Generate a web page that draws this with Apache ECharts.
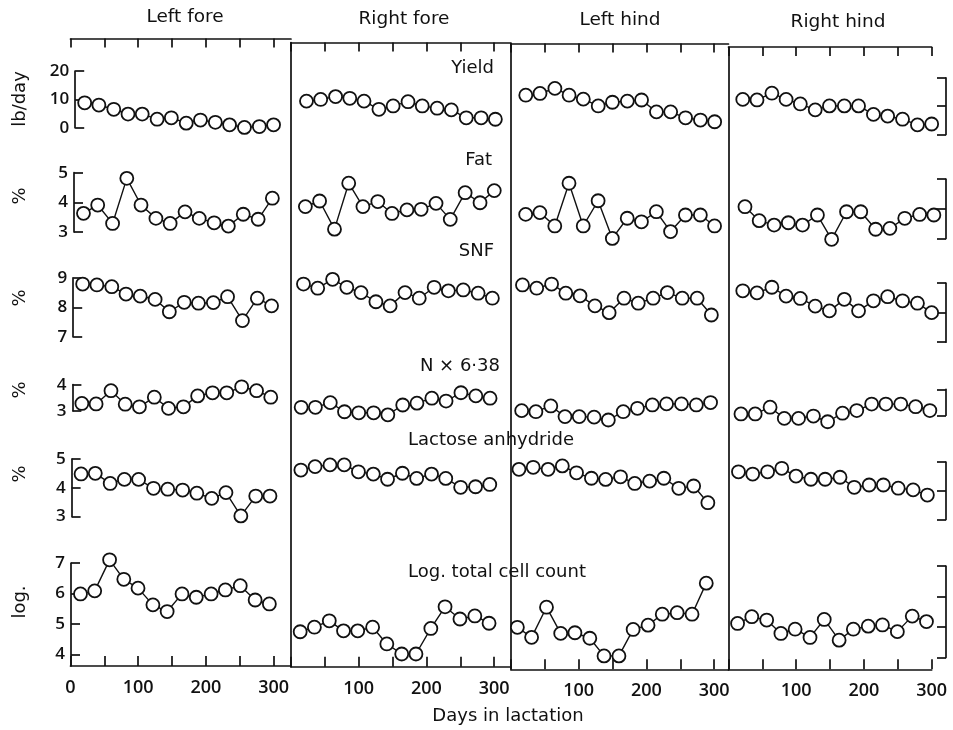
<!DOCTYPE html>
<html><head><meta charset="utf-8">
<script src="https://cdn.jsdelivr.net/npm/echarts@6/dist/echarts.min.js"></script>
<style>html,body{margin:0;padding:0;background:#fff}#c{width:953px;height:730px}</style>
</head><body><div id="c"></div>
<script>
// ---------------- data ----------------
const quarters = ['Left fore', 'Right fore', 'Left hind', 'Right hind'];
const variables = ['Yield', 'Fat', 'SNF', 'N × 6·38', 'Lactose anhydride', 'Log. total cell count'];
const axisNames = ['lb/day', '%', '%', '%', '%', 'log.'];
const days = [14, 35, 57, 78, 99, 121, 142, 164, 185, 207, 228, 250, 272, 293];

const yieldLF = [8.8, 8.0, 6.5, 4.8, 4.8, 3.0, 3.5, 1.6, 2.7, 1.9, 1.0, 0.1, 0.4, 1.0];
const yieldRF = [10.2, 10.8, 11.8, 11.2, 10.2, 7.3, 8.5, 10.0, 8.5, 7.7, 7.1, 4.3, 4.3, 3.8];
const yieldLH = [13.1, 13.7, 15.5, 13.1, 11.7, 9.3, 10.6, 11.0, 11.4, 7.2, 7.2, 5.1, 4.3, 3.7];
const yieldRH = [12.4, 12.2, 14.6, 12.4, 10.8, 8.7, 10.1, 10.1, 10.1, 7.1, 6.5, 5.4, 3.4, 3.7];

const fatLF = [3.63, 3.91, 3.29, 4.81, 3.91, 3.46, 3.29, 3.68, 3.46, 3.31, 3.20, 3.60, 3.43, 4.14];
const fatRF = [3.93, 4.12, 3.17, 4.72, 3.93, 4.10, 3.70, 3.82, 3.84, 4.04, 3.50, 4.40, 4.06, 4.47];
const fatLH = [3.74, 3.80, 3.35, 4.79, 3.35, 4.20, 2.93, 3.61, 3.49, 3.83, 3.16, 3.72, 3.72, 3.35];
const fatRH = [4.07, 3.60, 3.45, 3.53, 3.45, 3.79, 2.97, 3.90, 3.90, 3.31, 3.34, 3.68, 3.81, 3.79];

const snfLF = [8.79, 8.76, 8.70, 8.45, 8.38, 8.27, 7.85, 8.17, 8.14, 8.16, 8.36, 7.55, 8.31, 8.05];
const snfRF = [8.85, 8.71, 9.01, 8.74, 8.56, 8.25, 8.11, 8.56, 8.37, 8.74, 8.62, 8.65, 8.54, 8.37];
const snfLH = [8.88, 8.77, 8.91, 8.60, 8.51, 8.17, 7.94, 8.43, 8.26, 8.43, 8.62, 8.43, 8.43, 7.86];
const snfRH = [8.74, 8.67, 8.86, 8.56, 8.48, 8.22, 8.06, 8.45, 8.06, 8.40, 8.54, 8.40, 8.32, 8.00];

const protLF = [3.28, 3.26, 3.77, 3.25, 3.15, 3.52, 3.09, 3.15, 3.57, 3.69, 3.69, 3.92, 3.77, 3.52];
const protRF = [3.19, 3.19, 3.37, 3.02, 2.98, 2.98, 2.90, 3.28, 3.35, 3.54, 3.43, 3.75, 3.63, 3.54];
const protLH = [3.12, 3.08, 3.30, 2.89, 2.89, 2.87, 2.76, 3.08, 3.21, 3.34, 3.38, 3.38, 3.34, 3.43];
const protRH = [3.05, 3.05, 3.31, 2.88, 2.88, 2.97, 2.75, 3.08, 3.18, 3.43, 3.43, 3.43, 3.33, 3.18];

const lacLF = [4.48, 4.50, 4.15, 4.29, 4.29, 3.98, 3.95, 3.92, 3.81, 3.63, 3.83, 3.02, 3.71, 3.71];
const lacRF = [4.65, 4.77, 4.83, 4.83, 4.59, 4.51, 4.33, 4.54, 4.36, 4.51, 4.36, 4.05, 4.07, 4.15];
const lacLH = [4.71, 4.78, 4.71, 4.83, 4.59, 4.40, 4.36, 4.45, 4.22, 4.30, 4.40, 4.05, 4.13, 3.55];
const lacRH = [4.66, 4.58, 4.66, 4.78, 4.51, 4.40, 4.40, 4.47, 4.12, 4.20, 4.20, 4.09, 4.03, 3.85];

const logLF = [5.99, 6.09, 7.11, 6.47, 6.18, 5.63, 5.41, 5.99, 5.88, 5.99, 6.12, 6.26, 5.79, 5.66];
const logRF = [4.78, 4.93, 5.14, 4.81, 4.81, 4.93, 4.38, 4.05, 4.05, 4.89, 5.60, 5.20, 5.30, 5.06];
const logLH = [4.96, 4.63, 5.62, 4.76, 4.78, 4.60, 4.02, 4.02, 4.89, 5.03, 5.39, 5.44, 5.39, 6.41];
const logRH = [5.12, 5.34, 5.23, 4.79, 4.93, 4.66, 5.25, 4.57, 4.93, 5.03, 5.07, 4.85, 5.36, 5.18];

const yieldTicks = [0, 10, 20];
const fatTicks = [3, 4, 5];
const snfTicks = [7, 8, 9];
const protTicks = [3, 4];
const lacTicks = [3, 4, 5];
const logTicks = [4, 5, 6, 7];
const dayTicks = [0, 50, 100, 150, 200, 250, 300];
const dayLabels = [0, 100, 200, 300];

// ---------------- layout ----------------
const INK = '#111';
const NUMFONT = '"Open Sans", "Liberation Sans", sans-serif';
const TXTFONT = '"DejaVu Sans", sans-serif';
const pxPerDay = 0.677;
const colX0 = [70.5, 291, 511, 728.5];
const frameTop = [38.5, 42.5, 43.5, 47];
const frameBottom = [666, 666.7, 669.3, 669.3];
const colFrac = [0.12, 0.376, 0.627, 0.876];
const rightEdge = 946;
const rows = [
  {vals: [yieldLF, yieldRF, yieldLH, yieldRH], ticks: yieldTicks, min: 0, max: 20, yTop: 70, yBot: 126.6, tilt: 9},
  {vals: [fatLF, fatRF, fatLH, fatRH], ticks: fatTicks, min: 3, max: 5, yTop: 171.7, yBot: 231, tilt: 8.5},
  {vals: [snfLF, snfRF, snfLH, snfRH], ticks: snfTicks, min: 7, max: 9, yTop: 277, yBot: 336, tilt: 7},
  {vals: [protLF, protRF, protLH, protRH], ticks: protTicks, min: 3, max: 4, yTop: 384, yBot: 410, tilt: 6},
  {vals: [lacLF, lacRF, lacLH, lacRH], ticks: lacTicks, min: 3, max: 5, yTop: 458.5, yBot: 516, tilt: 4},
  {vals: [logLF, logRF, logLH, logRH], ticks: logTicks, min: 4, max: 7, yTop: 562.7, yBot: 654, tilt: 4}
];
const xShift = [
  [4.7, 6.0, 5.3, 4.8],
  [3.5, 4.9, 5.2, 7.0],
  [2.7, 3.0, 2.0, 4.8],
  [1.9, 0.7, 1.2, 3.0],
  [1.1, 0.4, -1.5, 0.5],
  [0.5, -0.3, -3.1, -0.4]
];

const grids = [], xAxes = [], yAxes = [], series = [];
const lineSt = {color: INK, width: 1.7};

// frame grids (borders, dividers, day axis)
for (let c = 0; c < 4; c++) {
  const w = c < 3 ? colX0[c + 1] - colX0[c] : 300 * pxPerDay;
  const xmax = w / pxPerDay;
  grids.push({left: colX0[c], top: frameTop[c], width: w, height: frameBottom[c] - frameTop[c],
    containLabel: false, outerBoundsMode: 'none'});
  const gi = grids.length - 1;
  xAxes.push({gridIndex: gi, type: 'value', min: 0, max: xmax, position: 'bottom',
    axisLine: {show: true, onZero: false, lineStyle: lineSt},
    axisTick: {show: true, inside: true, length: 10, customValues: dayTicks, lineStyle: lineSt},
    axisLabel: {show: true, customValues: c === 0 ? dayLabels : dayLabels.slice(1), color: INK,
      fontFamily: NUMFONT, fontSize: 18, fontWeight: 600, margin: 13},
    splitLine: {show: false}});
  xAxes.push({gridIndex: gi, type: 'value', min: 0, max: xmax, position: 'top',
    axisLine: {show: true, onZero: false, lineStyle: lineSt},
    axisTick: {show: true, inside: true, length: 9, customValues: dayTicks, lineStyle: lineSt},
    axisLabel: {show: false}, splitLine: {show: false}});
  yAxes.push({gridIndex: gi, type: 'value', min: 0, max: 1, position: 'left',
    axisLine: {show: c > 0, onZero: false, lineStyle: lineSt},
    axisTick: {show: false}, axisLabel: {show: false}, splitLine: {show: false}});
}

// data grids
rows.forEach((r, ri) => {
  for (let c = 0; c < 4; c++) {
    const shift = r.tilt * colFrac[c];
    const top = r.yTop + shift;
    let height = r.yBot - r.yTop;
    let min = r.min;
    const ppu = height / (r.max - r.min);
    if (ri === rows.length - 1 && c === 0) {
      height = frameBottom[0] - top;
      min = r.max - height / ppu;
    }
    const left = colX0[c] + xShift[ri][c];
    const width = c === 3 ? rightEdge - left : 220;
    grids.push({left: left, top: top, width: width, height: height, containLabel: false, outerBoundsMode: 'none'});
    const gi = grids.length - 1;
    xAxes.push({gridIndex: gi, type: 'value', min: 0, max: width / pxPerDay, show: false});
    const showAx = (c === 0 || c === 3);
    yAxes.push({gridIndex: gi, type: 'value', min: min, max: r.max, show: showAx,
      position: c === 3 ? 'right' : 'left',
      axisLine: {show: true, onZero: false, lineStyle: lineSt},
      axisTick: {show: true, inside: true, length: 9, customValues: r.ticks, lineStyle: lineSt},
      axisLabel: {show: c === 0, customValues: r.ticks, color: INK, fontFamily: NUMFONT,
        fontSize: 17, fontWeight: 600, margin: 6},
      splitLine: {show: false}});
    series.push({type: 'line', xAxisIndex: xAxes.length - 1, yAxisIndex: yAxes.length - 1,
      data: days.map((d, i) => [d, r.vals[c][i]]),
      symbol: 'circle', symbolSize: 13, showAllSymbol: true, clip: false, silent: true,
      itemStyle: {color: '#fff', borderColor: INK, borderWidth: 1.8},
      lineStyle: {color: INK, width: 1.4}, z: 5});
  }
});

// texts
const graphics = [];
const colTitleX = [185, 404, 620, 838];
const colTitleY = [17, 19, 20, 22];
quarters.forEach((q, i) => graphics.push({type: 'text', x: colTitleX[i], y: colTitleY[i],
  style: {text: q, fill: INK, font: '18.5px ' + TXTFONT, align: 'center', verticalAlign: 'middle',
    textAlign: 'center', textVerticalAlign: 'middle'}}));
const varPos = [
  {x: 494, y: 68, a: 'right'}, {x: 492, y: 160, a: 'right'}, {x: 494, y: 251, a: 'right'},
  {x: 500, y: 366, a: 'right'}, {x: 408, y: 440, a: 'left'}, {x: 408, y: 572, a: 'left'}
];
variables.forEach((v, i) => graphics.push({type: 'text', x: varPos[i].x, y: varPos[i].y, z: 10,
  style: {text: v, fill: INK, font: '18px ' + TXTFONT, align: varPos[i].a, verticalAlign: 'middle',
    textAlign: varPos[i].a, textVerticalAlign: 'middle'}}));
const nameY = [99, 196, 298, 390, 474, 602];
axisNames.forEach((n, i) => graphics.push({type: 'text', x: 20, y: nameY[i], rotation: Math.PI / 2,
  style: {text: n, fill: INK, font: '18px ' + TXTFONT, align: 'center', verticalAlign: 'middle',
    textAlign: 'center', textVerticalAlign: 'middle'}}));
graphics.push({type: 'text', x: 508, y: 716,
  style: {text: 'Days in lactation', fill: INK, font: '18px ' + TXTFONT, align: 'center',
    verticalAlign: 'middle', textAlign: 'center', textVerticalAlign: 'middle'}});

const chart = echarts.init(document.getElementById('c'));
chart.setOption({
  animation: false,
  backgroundColor: '#fff',
  grid: grids, xAxis: xAxes, yAxis: yAxes, series: series,
  graphic: {elements: graphics}
});
</script></body></html>
